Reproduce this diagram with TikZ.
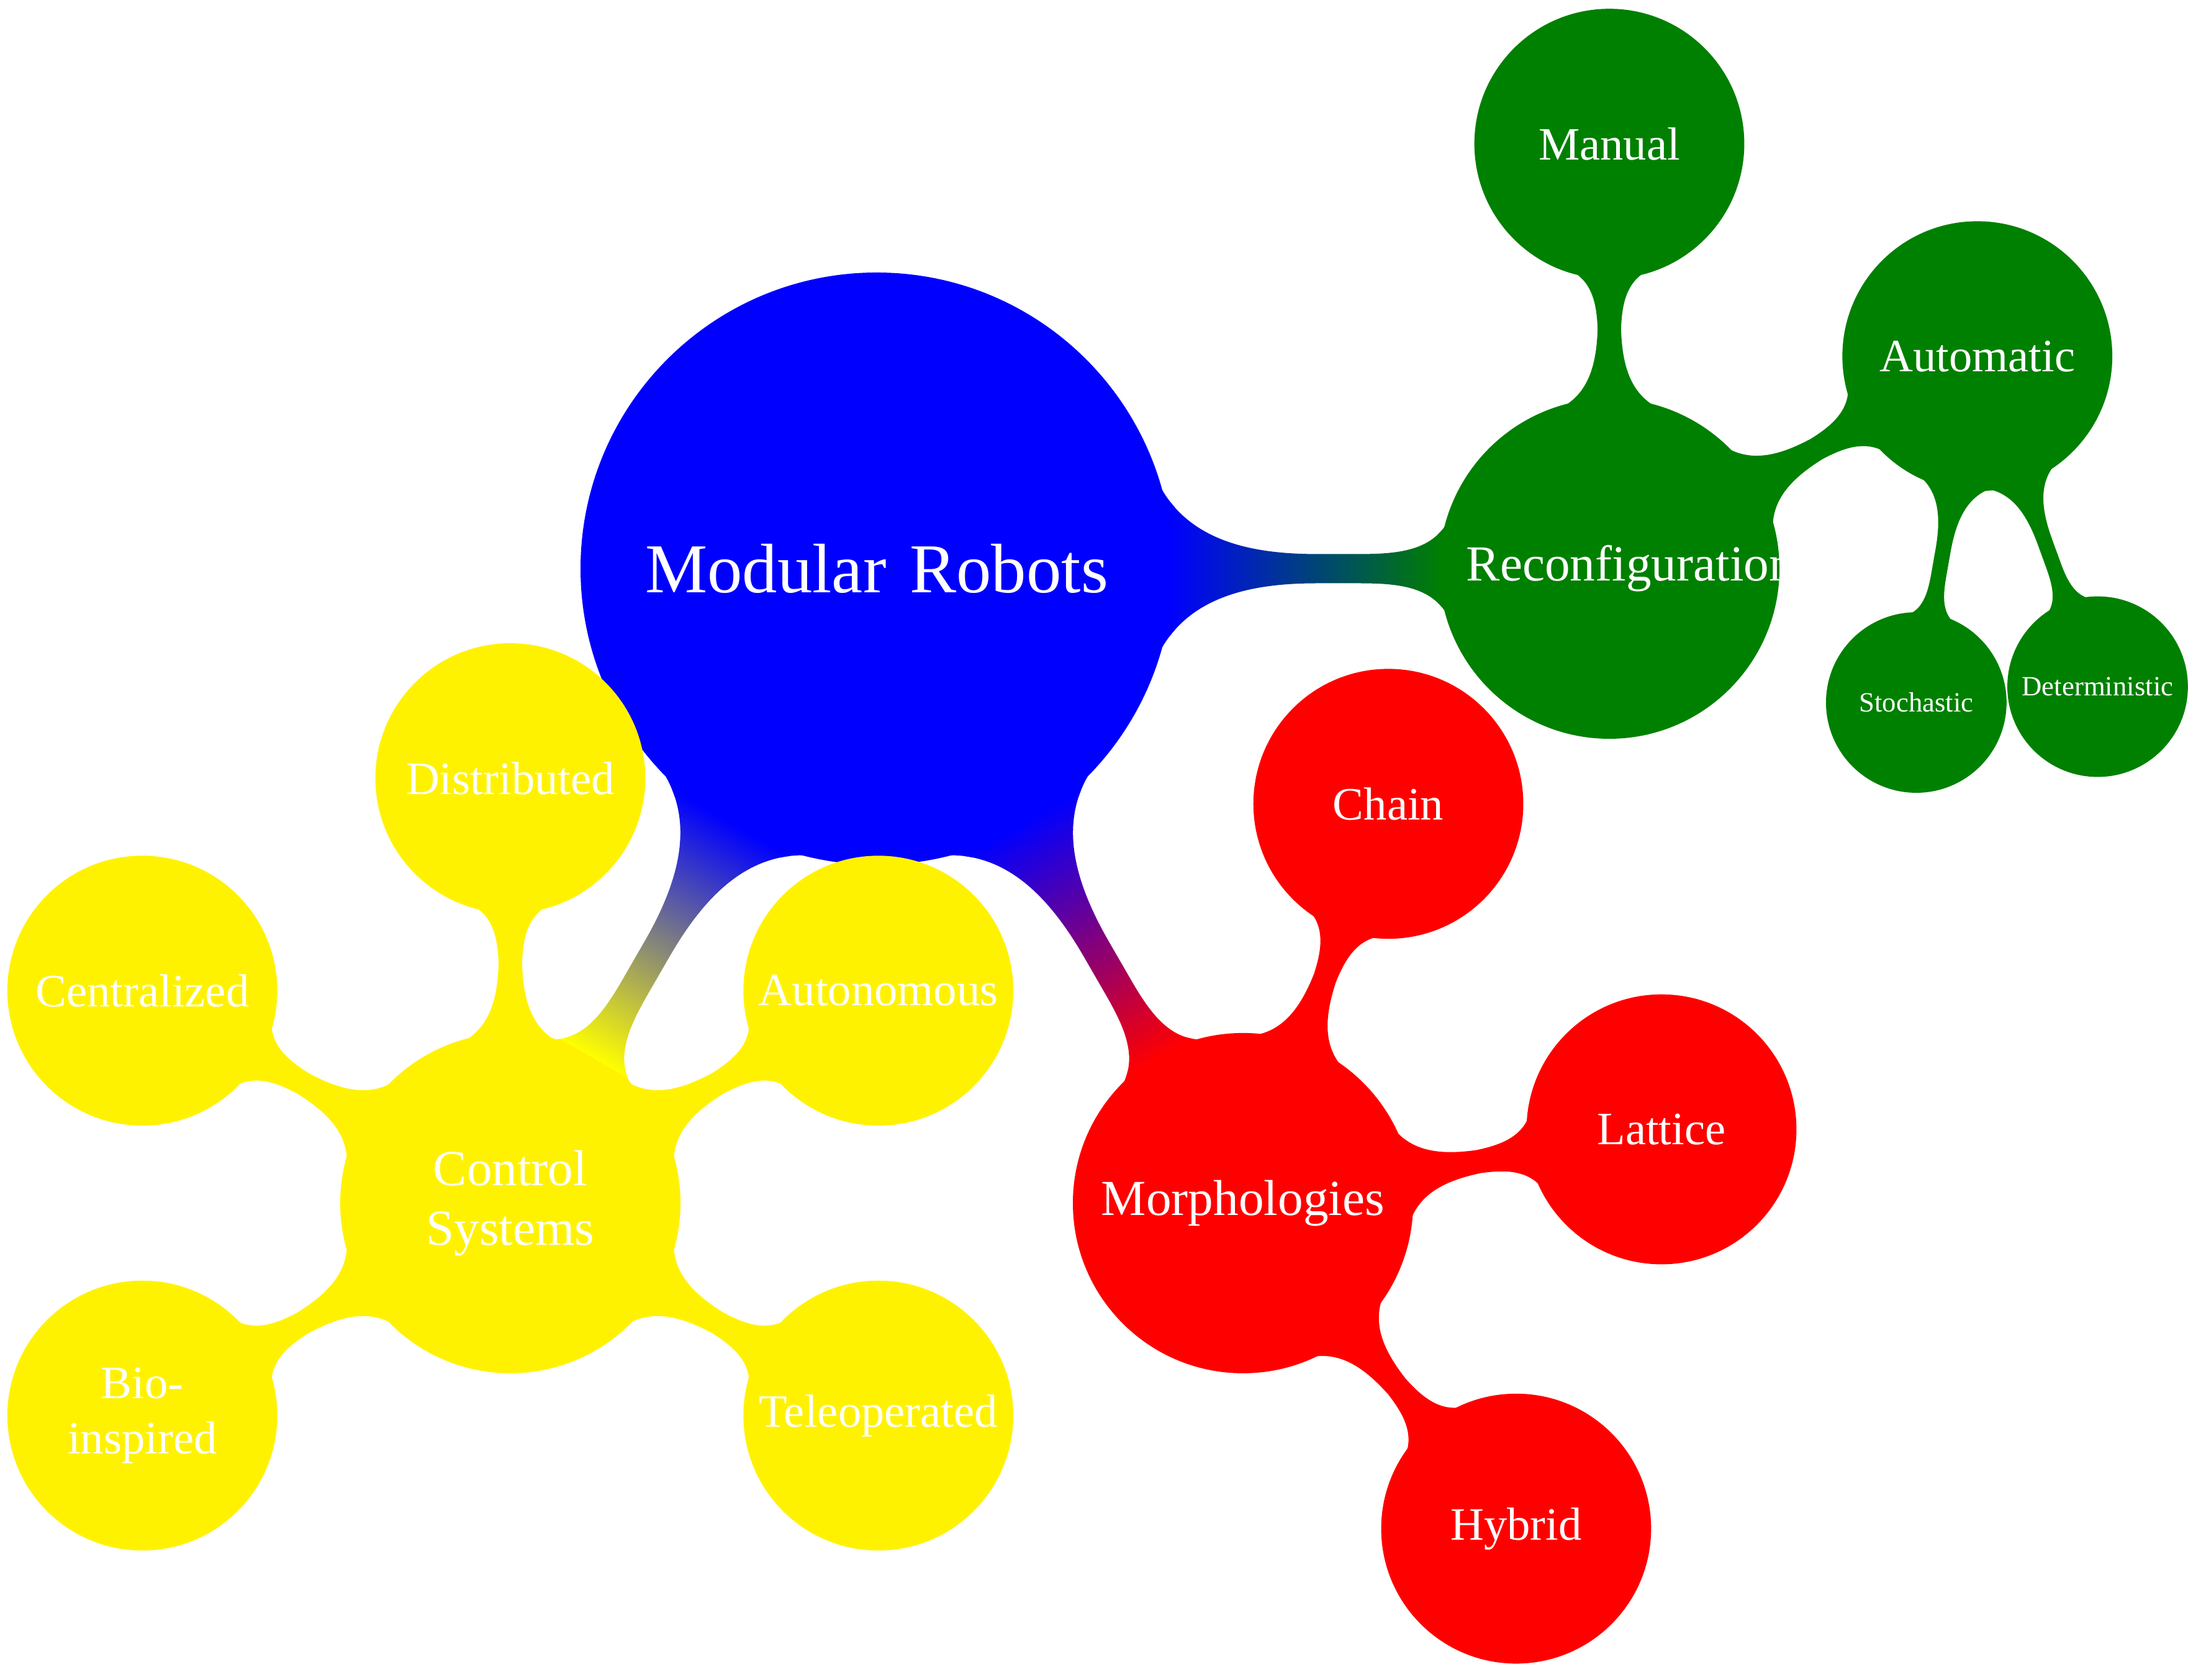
\documentclass[tikz,border=0pt]{standalone}
\usepackage{fontspec}
\setmainfont{Liberation Serif}
\usetikzlibrary{mindmap}
\colorlet{cblue}{blue}
\colorlet{cgreen}{green!50!black}
\colorlet{cred}{red}
\colorlet{cyellow}{yellow}
\tikzset{
  rootc/.style={concept color=cblue, concept, fill=cblue, text=white, minimum size=4cm,
    text width=3.6cm, inner sep=0pt, align=center, font=\fontsize{13.6}{16}\selectfont},
  lvlone/.style={concept, text=white, minimum size=2.28cm, text width=1.95cm,
    inner sep=0pt, align=center, font=\fontsize{9.8}{11.6}\selectfont},
  lvltwo/.style={concept, text=white, minimum size=1.8cm, text width=1.66cm,
    inner sep=0pt, align=center, font=\fontsize{9}{10.8}\selectfont},
  lvlthree/.style={concept, text=white, minimum size=1.19cm, text width=1.1cm,
    inner sep=0pt, align=center, font=\fontsize{5.4}{6.5}\selectfont},
  gr/.style={concept color=cgreen, fill=cgreen},
  rd/.style={concept color=cred, fill=cred},
  yl/.style={concept color=cyellow, fill=cyellow},
}
\begin{document}
\begin{tikzpicture}[mindmap]
\useasboundingbox (-5.983,-7.581) rectangle (9.038,3.881);
% nodes
\node[rootc] (root) at (0,0) {Modular Robots};
\node[gr, lvlone] (reconf) at (0:5) {\mbox{Reconfiguration}};
\node[rd, lvlone] (morph) at (-60:5) {Morphologies};
\node[yl, lvlone] (control) at (-120:5) {Control\\Systems};
% reconfiguration children
\path (reconf) ++(90:2.9) node[gr, lvltwo] (manual) {Manual};
\path (reconf) ++(30:2.9) node[gr, lvltwo] (auto) {Automatic};
\path (auto) ++(-100:2.4) node[gr, lvlthree] (stoch) {Stochastic};
\path (auto) ++(-70:2.4) node[gr, lvlthree] (determ) {Deterministic};
% morphologies children
\path (morph) ++(70:2.9) node[rd, lvltwo] (chain) {Chain};
\path (morph) ++(10:2.9) node[rd, lvltwo] (lattice) {Lattice};
\path (morph) ++(-50:2.9) node[rd, lvltwo] (hybrid) {Hybrid};
% control children
\path (control) ++(90:2.9) node[yl, lvltwo] (distr) {Distributed};
\path (control) ++(150:2.9) node[yl, lvltwo] (central) {Centralized};
\path (control) ++(210:2.9) node[yl, lvltwo] (bio) {Bio-\\inspired};
\path (control) ++(-30:2.9) node[yl, lvltwo] (teleop) {Teleoperated};
\path (control) ++(30:2.9) node[yl, lvltwo] (auton) {Autonomous};
% connections
\path (root) to[circle connection bar switch color=from (cblue) to (cgreen)] (reconf);
\path (root) to[circle connection bar switch color=from (cblue) to (cred)] (morph);
\path (root) to[circle connection bar switch color=from (cblue) to (cyellow)] (control);
\path[gr] (reconf) to[circle connection bar] (manual);
\path[gr] (reconf) to[circle connection bar] (auto);
\path[gr] (auto) to[circle connection bar] (stoch);
\path[gr] (auto) to[circle connection bar] (determ);
\path[rd] (morph) to[circle connection bar] (chain);
\path[rd] (morph) to[circle connection bar] (lattice);
\path[rd] (morph) to[circle connection bar] (hybrid);
\path[yl] (control) to[circle connection bar] (distr);
\path[yl] (control) to[circle connection bar] (central);
\path[yl] (control) to[circle connection bar] (bio);
\path[yl] (control) to[circle connection bar] (teleop);
\path[yl] (control) to[circle connection bar] (auton);
\end{tikzpicture}
\end{document}
